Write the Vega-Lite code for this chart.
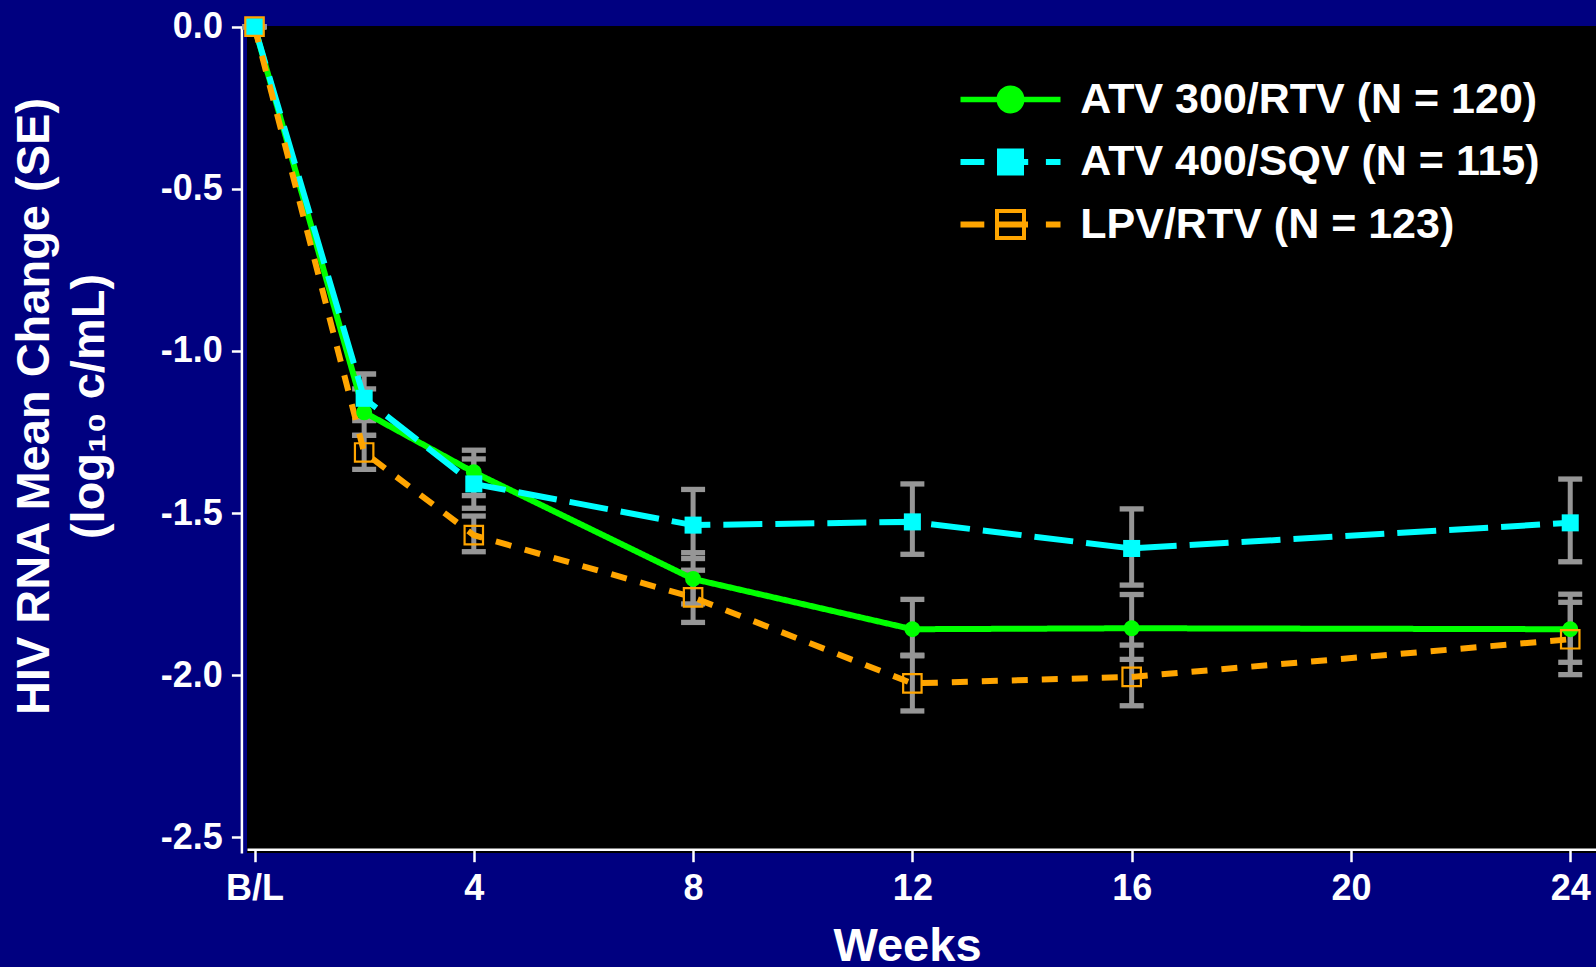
{
  "$schema": "https://vega.github.io/schema/vega-lite/v6.json",
  "autosize": {"type": "none"},
  "padding": {"left": 247, "top": 26, "right": 0, "bottom": 114},
  "width": 1349,
  "height": 827,
  "background": "#000080",
  "config": {
    "view": {"fill": "black", "stroke": null},
    "font": "Liberation Sans"
  },
  "data": {
    "values": [
      {"series": "ATV 300/RTV (N = 120)", "week": 0, "mean": 0, "lo": 0, "hi": 0},
      {"series": "ATV 300/RTV (N = 120)", "week": 2, "mean": -1.189, "lo": -1.26, "hi": -1.117},
      {"series": "ATV 300/RTV (N = 120)", "week": 4, "mean": -1.374, "lo": -1.446, "hi": -1.306},
      {"series": "ATV 300/RTV (N = 120)", "week": 8, "mean": -1.703, "lo": -1.78, "hi": -1.622},
      {"series": "ATV 300/RTV (N = 120)", "week": 12, "mean": -1.858, "lo": -1.938, "hi": -1.766},
      {"series": "ATV 300/RTV (N = 120)", "week": 16, "mean": -1.855, "lo": -1.951, "hi": -1.751},
      {"series": "ATV 300/RTV (N = 120)", "week": 24, "mean": -1.858, "lo": -1.96, "hi": -1.75},
      {"series": "ATV 400/SQV (N = 115)", "week": 0, "mean": 0, "lo": 0, "hi": 0},
      {"series": "ATV 400/SQV (N = 115)", "week": 2, "mean": -1.146, "lo": -1.215, "hi": -1.071},
      {"series": "ATV 400/SQV (N = 115)", "week": 4, "mean": -1.41, "lo": -1.485, "hi": -1.333},
      {"series": "ATV 400/SQV (N = 115)", "week": 8, "mean": -1.537, "lo": -1.64, "hi": -1.427},
      {"series": "ATV 400/SQV (N = 115)", "week": 12, "mean": -1.527, "lo": -1.627, "hi": -1.41},
      {"series": "ATV 400/SQV (N = 115)", "week": 16, "mean": -1.609, "lo": -1.722, "hi": -1.487},
      {"series": "ATV 400/SQV (N = 115)", "week": 24, "mean": -1.53, "lo": -1.65, "hi": -1.395},
      {"series": "LPV/RTV (N = 123)", "week": 0, "mean": 0, "lo": 0, "hi": 0},
      {"series": "LPV/RTV (N = 123)", "week": 2, "mean": -1.313, "lo": -1.365, "hi": -1.26},
      {"series": "LPV/RTV (N = 123)", "week": 4, "mean": -1.568, "lo": -1.619, "hi": -1.509},
      {"series": "LPV/RTV (N = 123)", "week": 8, "mean": -1.76, "lo": -1.837, "hi": -1.676},
      {"series": "LPV/RTV (N = 123)", "week": 12, "mean": -2.025, "lo": -2.11, "hi": -1.94},
      {"series": "LPV/RTV (N = 123)", "week": 16, "mean": -2.005, "lo": -2.094, "hi": -1.907},
      {"series": "LPV/RTV (N = 123)", "week": 24, "mean": -1.889, "lo": -1.998, "hi": -1.775}
    ]
  },
  "encoding": {
    "x": {
      "field": "week", "type": "quantitative",
      "scale": {"domain": [-0.137, 24.47], "nice": false, "zero": false},
      "axis": {
        "values": [0, 4, 8, 12, 16, 20, 24],
        "labelExpr": "datum.value == 0 ? 'B/L' : datum.label",
        "grid": false,
        "offset": -3.7,
        "domainColor": "white", "domainWidth": 2.5,
        "tickColor": "white", "tickWidth": 2.5, "tickSize": 12.4,
        "labelFont": "Liberation Sans", "labelFontSize": 36, "labelFontWeight": "bold", "labelColor": "white",
        "labelPadding": 10, "labelFlush": false, "labelOverlap": false,
        "title": "Weeks",
        "titleFont": "Liberation Sans", "titleFontSize": 47, "titleFontWeight": "bold", "titleColor": "white",
        "titleX": 660, "titleY": 111, "titleAlign": "center", "titleBaseline": "alphabetic"
      }
    },
    "y": {
      "field": "mean", "type": "quantitative",
      "scale": {"domain": [-2.548, 0.002], "nice": false, "zero": false},
      "axis": {
        "values": [0, -0.5, -1, -1.5, -2, -2.5],
        "labelExpr": "datum.value == 0 ? '0.0' : '-' + format(-datum.value, '.1f')",
        "grid": false,
        "offset": 5.6,
        "domainColor": "white", "domainWidth": 2.5,
        "tickColor": "white", "tickWidth": 2.5, "tickSize": 10,
        "labelFont": "Liberation Sans", "labelFontSize": 36, "labelFontWeight": "bold", "labelColor": "white",
        "labelPadding": 9, "labelFlush": false, "labelOverlap": false,
        "title": ["HIV RNA Mean Change (SE)", "(log₁₀ c/mL)"],
        "titleFont": "Liberation Sans", "titleFontSize": 47, "titleFontWeight": "bold", "titleColor": "white",
        "titleLineHeight": 55, "titleAngle": 270, "titleAlign": "center", "titleBaseline": "top",
        "titleX": -230, "titleY": 380
      }
    }
  },
  "layer": [
    {
      "mark": {"type": "rule", "color": "#969696", "strokeWidth": 5},
      "encoding": {
        "y": {"field": "lo", "type": "quantitative", "scale": {"domain": [-2.548, 0.002], "nice": false, "zero": false},
          "axis": {
            "values": [0, -0.5, -1, -1.5, -2, -2.5],
            "labelExpr": "datum.value == 0 ? '0.0' : '-' + format(-datum.value, '.1f')",
            "grid": false,
            "offset": 5.6,
            "domainColor": "white", "domainWidth": 2.5,
            "tickColor": "white", "tickWidth": 2.5, "tickSize": 10,
            "labelFont": "Liberation Sans", "labelFontSize": 36, "labelFontWeight": "bold", "labelColor": "white",
            "labelPadding": 9, "labelFlush": false, "labelOverlap": false,
            "title": ["HIV RNA Mean Change (SE)", "(log₁₀ c/mL)"],
            "titleFont": "Liberation Sans", "titleFontSize": 47, "titleFontWeight": "bold", "titleColor": "white",
            "titleLineHeight": 55, "titleAngle": 270, "titleAlign": "center", "titleBaseline": "top",
            "titleX": -230, "titleY": 380
          }
        },
        "y2": {"field": "hi"}
      }
    },
    {
      "mark": {"type": "tick", "orient": "horizontal", "color": "#969696", "size": 24, "thickness": 5.3, "opacity": 1},
      "encoding": {
        "y": {"field": "lo", "type": "quantitative", "scale": {"domain": [-2.548, 0.002], "nice": false, "zero": false},
          "axis": {
            "values": [0, -0.5, -1, -1.5, -2, -2.5],
            "labelExpr": "datum.value == 0 ? '0.0' : '-' + format(-datum.value, '.1f')",
            "grid": false,
            "offset": 5.6,
            "domainColor": "white", "domainWidth": 2.5,
            "tickColor": "white", "tickWidth": 2.5, "tickSize": 10,
            "labelFont": "Liberation Sans", "labelFontSize": 36, "labelFontWeight": "bold", "labelColor": "white",
            "labelPadding": 9, "labelFlush": false, "labelOverlap": false,
            "title": ["HIV RNA Mean Change (SE)", "(log₁₀ c/mL)"],
            "titleFont": "Liberation Sans", "titleFontSize": 47, "titleFontWeight": "bold", "titleColor": "white",
            "titleLineHeight": 55, "titleAngle": 270, "titleAlign": "center", "titleBaseline": "top",
            "titleX": -230, "titleY": 380
          }
        }
      }
    },
    {
      "mark": {"type": "tick", "orient": "horizontal", "color": "#969696", "size": 24, "thickness": 5.3, "opacity": 1},
      "encoding": {
        "y": {"field": "hi", "type": "quantitative", "scale": {"domain": [-2.548, 0.002], "nice": false, "zero": false},
          "axis": {
            "values": [0, -0.5, -1, -1.5, -2, -2.5],
            "labelExpr": "datum.value == 0 ? '0.0' : '-' + format(-datum.value, '.1f')",
            "grid": false,
            "offset": 5.6,
            "domainColor": "white", "domainWidth": 2.5,
            "tickColor": "white", "tickWidth": 2.5, "tickSize": 10,
            "labelFont": "Liberation Sans", "labelFontSize": 36, "labelFontWeight": "bold", "labelColor": "white",
            "labelPadding": 9, "labelFlush": false, "labelOverlap": false,
            "title": ["HIV RNA Mean Change (SE)", "(log₁₀ c/mL)"],
            "titleFont": "Liberation Sans", "titleFontSize": 47, "titleFontWeight": "bold", "titleColor": "white",
            "titleLineHeight": 55, "titleAngle": 270, "titleAlign": "center", "titleBaseline": "top",
            "titleX": -230, "titleY": 380
          }
        }
      }
    },
    {
      "mark": {"type": "line", "strokeWidth": 6, "strokeCap": "butt"},
      "encoding": {
        "color": {
          "field": "series", "type": "nominal",
          "scale": {"domain": ["ATV 300/RTV (N = 120)", "ATV 400/SQV (N = 115)", "LPV/RTV (N = 123)"], "range": ["#00ff00", "#00ffff", "#ffa500"]},
          "legend": {
            "orient": "none", "legendX": 742, "legendY": 52, "title": null, "padding": 0,
            "labelFont": "Liberation Sans", "labelFontSize": 43, "labelFontWeight": "bold", "labelColor": "white",
            "labelLimit": 1000, "labelOffset": 48.3, "rowPadding": 18.5,
            "symbolSize": 400, "symbolStrokeWidth": 0, "symbolType": "square",
            "encode": {
              "symbols": {
                "update": {
                  "shape": {"signal": "datum.value === 'ATV 300/RTV (N = 120)' ? 'M-5,-0.28H5V0.28H-5Z M1.4,0A1.4,1.4,0,1,1,-1.4,0A1.4,1.4,0,1,1,1.4,0Z' : datum.value === 'ATV 400/SQV (N = 115)' ? 'M-5,-0.3H-2.62V0.3H-5Z M-1.35,-1.35H1.35V1.35H-1.35Z M1.35,-0.3H1.77V0.3H1.35Z M3.54,-0.3H5V0.3H3.54Z' : 'M-5,-0.3H-2.62V0.3H-5Z M-1.55,-1.55H1.55V1.55H-1.55Z M-1.15,-1.15V1.15H1.15V-1.15Z M-1.15,-0.3H1.75V0.3H-1.15Z M3.54,-0.3H5V0.3H3.54Z'"},
                  "fill": {"signal": "datum.value === 'ATV 300/RTV (N = 120)' ? '#00ff00' : datum.value === 'ATV 400/SQV (N = 115)' ? '#00ffff' : '#ffa500'"},
                  "fillOpacity": {"value": 1},
                  "opacity": {"value": 1},
                  "stroke": {"value": "transparent"},
                  "strokeWidth": {"value": 0},
                  "size": {"value": 400}
                }
              }
            }
          }
        },
        "strokeDash": {
          "field": "series", "type": "nominal",
          "scale": {"domain": ["ATV 300/RTV (N = 120)", "ATV 400/SQV (N = 115)", "LPV/RTV (N = 123)"], "range": [[1, 0], [39, 13], [16, 14]]},
          "legend": null
        }
      }
    },
    {
      "transform": [{"filter": "datum.series === 'ATV 300/RTV (N = 120)'"}],
      "mark": {"type": "point", "shape": "circle", "filled": true, "fill": "#00ff00", "stroke": null, "size": 254, "opacity": 1}
    },
    {
      "transform": [{"filter": "datum.series === 'ATV 400/SQV (N = 115)'"}],
      "mark": {"type": "point", "shape": "square", "filled": true, "fill": "#00ffff", "stroke": null, "size": 290, "opacity": 1}
    },
    {
      "transform": [{"filter": "datum.series === 'LPV/RTV (N = 123)'"}],
      "mark": {"type": "point", "shape": "square", "filled": false, "fill": null, "stroke": "#ffa500", "strokeWidth": 2.2, "size": 340, "opacity": 1}
    }
  ]
}
